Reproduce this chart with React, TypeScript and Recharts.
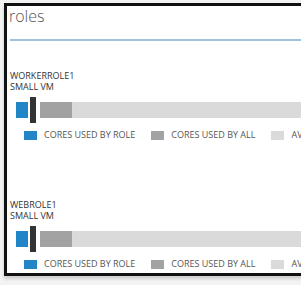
import { BarChart, Bar, XAxis, YAxis, ReferenceLine, Legend } from 'recharts';

// share of the subscription's core quota (0-100)
const roleNames = ['WORKERROLE1', 'WEBROLE1'];
const vmSizes = ['SMALL VM', 'SMALL VM'];
const coresByRole = [4, 4];
const markerGap = [4, 4];
const coresByAll = [10.7, 10.7];
const coresAvailable = [81.3, 81.3];
const markerAt = [5.67, 5.67];
const seriesLabels = ['CORES USED BY ROLE', 'CORES USED BY ALL', 'AVAILABLE CORES'];

const BLUE = '#2285c6';
const DARK = '#a2a2a2';
const LIGHT = '#dadada';
const FONT = '"Open Sans", sans-serif';

function LegendRow(props: any) {
  // keep the series order of the original (vertical layout flips it)
  const items = (props.payload || [])
    .filter((p: any) => p.type !== 'none')
    .sort((a: any, b: any) => seriesLabels.indexOf(a.value) - seriesLabels.indexOf(b.value));
  return (
    <div style={{ display: 'flex', alignItems: 'center', paddingLeft: 8, paddingTop: 7, whiteSpace: 'nowrap' }}>
      {items.map((p: any, i: number) => (
        <div key={i} style={{ display: 'flex', alignItems: 'center', marginRight: 16 }}>
          <span style={{ display: 'inline-block', width: 13, height: 9, background: p.color, marginRight: 7 }} />
          <span style={{ fontFamily: FONT, fontSize: 9, color: '#555', lineHeight: '10px' }}>{p.value}</span>
        </div>
      ))}
    </div>
  );
}

function RolePanel({ idx, top }: { idx: number; top: number }) {
  const data = [
    {
      name: roleNames[idx],
      role: coresByRole[idx],
      gap: markerGap[idx],
      all: coresByAll[idx],
      free: coresAvailable[idx],
    },
  ];
  return (
    <>
      <div
        style={{
          position: 'absolute',
          left: 10,
          top: top - 26,
          fontFamily: FONT,
          fontSize: 9,
          lineHeight: '10.5px',
          color: '#333',
        }}
      >
        <div>{roleNames[idx]}</div>
        <div>{vmSizes[idx]}</div>
      </div>
      <div style={{ position: 'absolute', left: 16, top }}>
        <BarChart
          width={300}
          height={46}
          data={data}
          layout="vertical"
          margin={{ top: 0, right: 0, bottom: 0, left: 0 }}
          barSize={16}
        >
          <XAxis type="number" domain={[0, 100]} hide />
          <YAxis type="category" dataKey="name" hide />
          <Bar dataKey="role" name={seriesLabels[0]} stackId="a" fill={BLUE} isAnimationActive={false} />
          <Bar dataKey="gap" stackId="a" fill="transparent" legendType="none" isAnimationActive={false} />
          <Bar dataKey="all" name={seriesLabels[1]} stackId="a" fill={DARK} isAnimationActive={false} />
          <Bar dataKey="free" name={seriesLabels[2]} stackId="a" fill={LIGHT} isAnimationActive={false} />
          <ReferenceLine x={markerAt[idx]} stroke="#333" strokeWidth={6} />
          <Legend
            verticalAlign="bottom"
            align="left"
            height={20}
            content={LegendRow}
            wrapperStyle={{ left: 0, width: 400 }}
          />
        </BarChart>
      </div>
    </>
  );
}

export default function App() {
  return (
    <div
      style={{
        position: 'fixed',
        left: 0,
        top: 0,
        width: 301,
        height: 285,
        overflow: 'hidden',
        background: '#f3f3f3',
      }}
    >
      <div
        style={{
          position: 'absolute',
          left: 4,
          top: 3,
          width: 330,
          height: 267,
          border: '3px solid #111',
          background: '#fff',
          boxShadow: '0 3px 3px rgba(0,0,0,0.15)',
        }}
      />
      <div
        style={{
          position: 'absolute',
          left: 9,
          top: 8,
          fontFamily: FONT,
          fontWeight: 300,
          fontSize: 16,
          lineHeight: '16px',
          color: '#555',
        }}
      >
        roles
      </div>
      <div style={{ position: 'absolute', left: 10, top: 39, width: 300, height: 2, background: '#9cc4dd' }} />
      <RolePanel idx={0} top={97} />
      <RolePanel idx={1} top={226} />
    </div>
  );
}
